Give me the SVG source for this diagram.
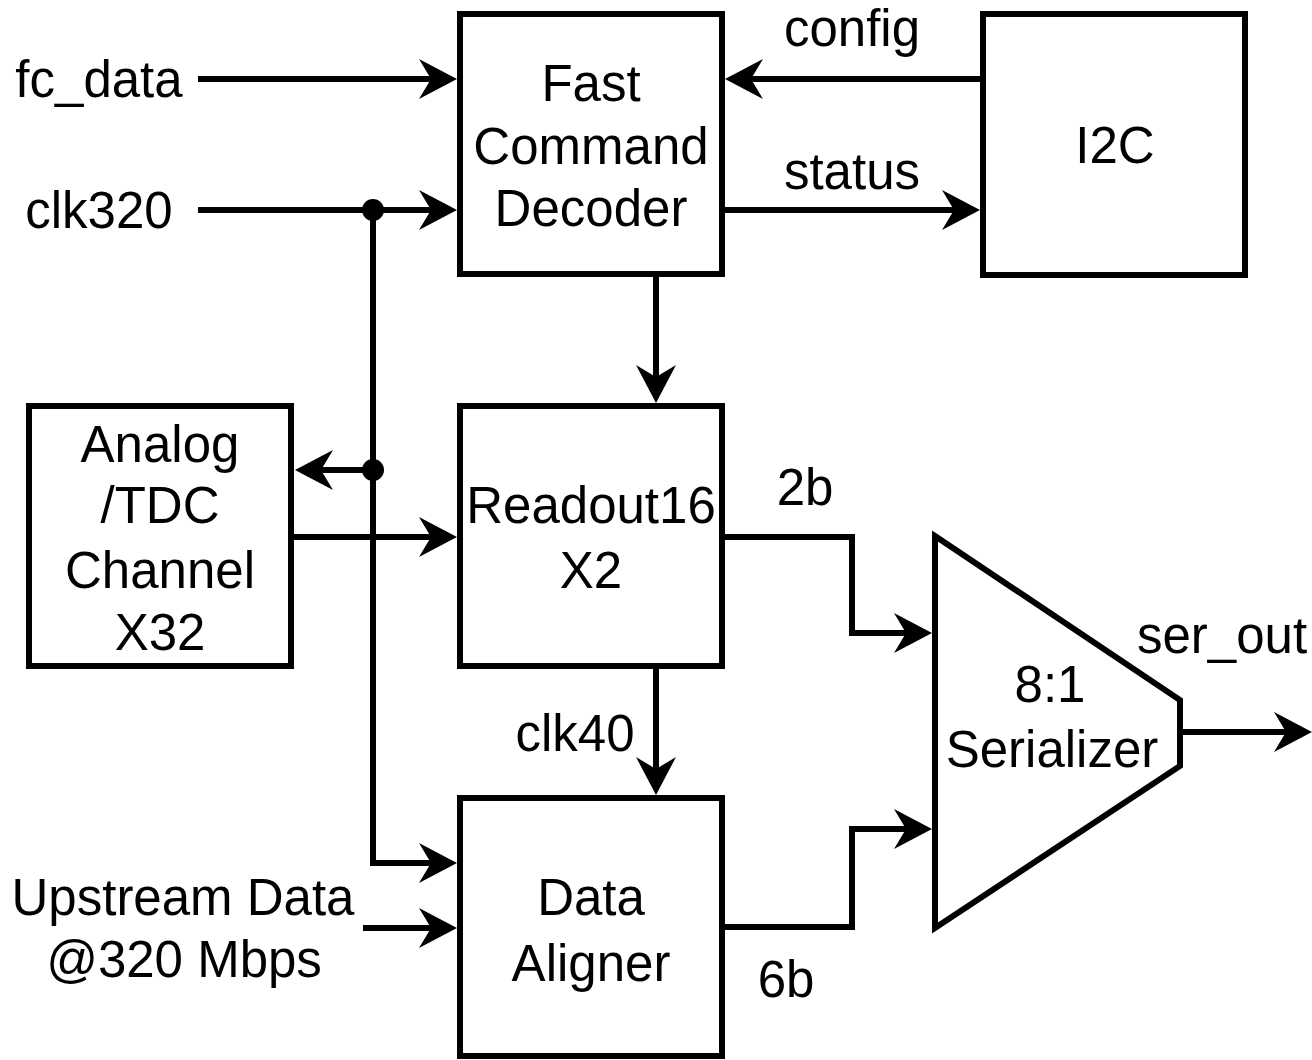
<svg xmlns="http://www.w3.org/2000/svg" width="1312" height="1060" viewBox="0 0 1312 1060">
<style>
.box{fill:#fff;stroke:#000;stroke-width:6}
.wire{fill:none;stroke:#000;stroke-width:6}
text{font-family:"Liberation Sans",Arial,sans-serif;font-size:51px;fill:#000;text-anchor:middle}
</style>
<defs>
<marker id="arr" markerUnits="userSpaceOnUse" markerWidth="40" markerHeight="42" viewBox="0 -21 40 42" refX="12" refY="0" orient="auto">
<path d="M0,-20 L38,0 L0,20 L12,0 Z" fill="#000"/>
</marker>
</defs>
<rect x="0" y="0" width="1312" height="1060" fill="#fff"/>
<g id="connectors">
<path class="wire" d="M198,79 H431" marker-end="url(#arr)"/>
<path class="wire" d="M198,210 H431" marker-end="url(#arr)"/>
<path class="wire" d="M373,210 V863 H431" marker-end="url(#arr)"/>
<path class="wire" d="M373,470 H321" marker-end="url(#arr)"/>
<path class="wire" d="M983,79 H751" marker-end="url(#arr)"/>
<path class="wire" d="M722,210 H954" marker-end="url(#arr)"/>
<path class="wire" d="M656,274 V377" marker-end="url(#arr)"/>
<path class="wire" d="M292,537 H431" marker-end="url(#arr)"/>
<path class="wire" d="M656,666 V769" marker-end="url(#arr)"/>
<path class="wire" d="M722,537 H852 V633 H906" marker-end="url(#arr)"/>
<path class="wire" d="M722,927 H852 V829 H906" marker-end="url(#arr)"/>
<path class="wire" d="M363,928 H431" marker-end="url(#arr)"/>
<path class="wire" d="M1180,732 H1286" marker-end="url(#arr)"/>
<circle cx="373" cy="210" r="11" fill="#000"/>
<circle cx="373" cy="470" r="11" fill="#000"/>
<text x="99" y="97">fc_data</text>
<text x="99" y="228">clk320</text>
<text x="852" y="46">config</text>
<text x="852" y="189">status</text>
<text x="805" y="505">2b</text>
<text x="575" y="751">clk40</text>
<text x="786" y="997">6b</text>
<text x="1222" y="653">ser_out</text>
<text x="183" y="915">Upstream Data</text>
<text x="184" y="977">@320 Mbps</text>
</g>
<g id="fcd">
<rect class="box" x="460" y="14" width="262" height="260"/>
<text x="591" y="101">Fast</text>
<text x="591" y="164">Command</text>
<text x="591" y="226">Decoder</text>
</g>
<g id="i2c">
<rect class="box" x="983" y="14" width="262" height="261"/>
<text x="1115" y="163">I2C</text>
</g>
<g id="analog">
<rect class="box" x="29" y="406" width="262" height="260"/>
<text x="160" y="462">Analog</text>
<text x="160" y="523">/TDC</text>
<text x="160" y="588">Channel</text>
<text x="160" y="650">X32</text>
</g>
<g id="readout">
<rect class="box" x="460" y="406" width="262" height="260"/>
<text x="591" y="523">Readout16</text>
<text x="591" y="588">X2</text>
</g>
<g id="aligner">
<rect class="box" x="460" y="798" width="262" height="258"/>
<text x="591" y="915">Data</text>
<text x="591" y="981">Aligner</text>
</g>
<g id="serializer">
<polygon class="box" points="935,536 1180,700 1180,766 935,928"/>
<text x="1050" y="702">8:1</text>
<text x="1052" y="767">Serializer</text>
</g>
</svg>
